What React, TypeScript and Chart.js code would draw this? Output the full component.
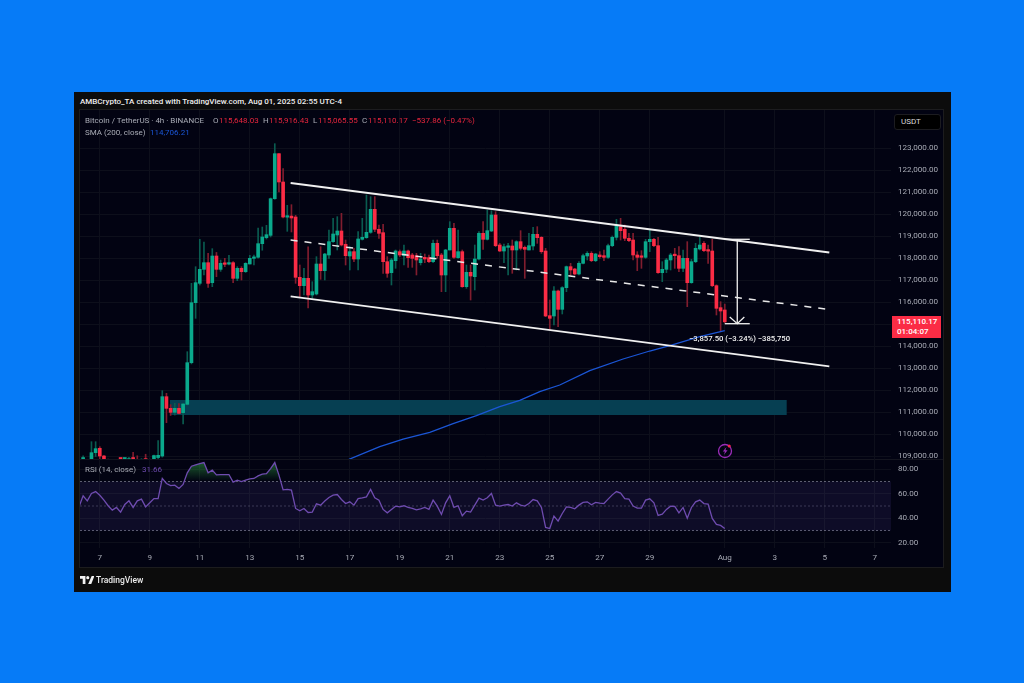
import React, { useEffect, useRef } from "react";
import { Chart, registerables } from "chart.js";

Chart.register(...registerables);

// Candle index: number of 4h periods since Jul 7 00:00
const firstCandle = -4;

const opens = [
  108800, 108700, 108880, 109171, 109368, 109020, 108860, 108700, 108600, 108700,
  108650, 108700, 108950, 108820, 108700, 108900, 108700, 108870, 108950, 109020,
  111713, 111183, 111002, 111183, 110985, 111365, 113256, 115979, 116857, 117492,
  117795, 116887, 118098, 117492, 117770, 117730, 117795, 117084, 117538, 117387,
  117735, 117990, 118040, 118658, 118930, 119036, 120700, 122743, 121457, 119860,
  119910, 119868, 117129, 116751, 117084, 116328, 116373, 117735, 117433, 118144,
  118749, 119051, 119233, 118628, 118098, 118295, 117962, 118855, 118931, 119172,
  120216, 119309, 119157, 117841, 117342, 117886, 118295, 118113, 118325, 118144,
  118113, 117796, 118038, 118023, 117841, 118673, 118144, 117236, 118371, 119354,
  118023, 118295, 116706, 117357, 117160, 117962, 119127, 118855, 119233, 119959,
  118598, 118325, 118492, 118552, 118371, 118749, 118492, 118371, 118552, 119082,
  118946, 118325, 115390, 115375, 116510, 115677, 116661, 117614, 117508, 117281,
  117765, 118098, 118219, 117886, 118144, 118113, 118038, 118567, 118945, 119430,
  119308, 118900, 118824, 118144, 118068, 118038, 118749, 118855, 118567, 117342,
  117493, 117917, 118144, 118113, 117538, 117992, 116888, 117841, 118416, 118673,
  118370, 118325, 116752, 115753, 115648.03,
];
const highs = [
  109030, 108860, 109670, 109670, 109443, 109050, 108880, 108800, 108750, 108820,
  108860, 108960, 109190, 109030, 108900, 109100, 108880, 109060, 109716, 111985,
  111864, 111350, 111410, 111400, 111410, 113755, 116857, 117613, 118855, 118734,
  118218, 118431, 118260, 117916, 117992, 118128, 117840, 117614, 117614, 117795,
  118128, 118140, 119369, 119414, 119490, 120731, 123197, 122743, 122062, 120398,
  120428, 119945, 117690, 117538, 118520, 116933, 118068, 118522, 118219, 119278,
  119808, 119884, 120035, 118824, 118522, 118446, 119203, 119808, 120867, 120791,
  120791, 119505, 119536, 118068, 117992, 118371, 118371, 118598, 118371, 118219,
  118219, 118219, 118189, 118144, 118824, 118824, 118219, 118401, 119657, 119581,
  119278, 118371, 117690, 117690, 118598, 119203, 119657, 120186, 120156, 120111,
  118673, 118643, 118673, 118824, 118794, 119248, 118552, 119127, 119399, 119430,
  118976, 118446, 116101, 116706, 116555, 116706, 117644, 117765, 117538, 117841,
  118189, 118295, 118295, 118219, 118295, 118371, 118643, 119006, 119762, 119808,
  119505, 119127, 119127, 118295, 118340, 118855, 119278, 118900, 118945, 117841,
  117992, 118219, 118446, 118522, 118371, 118749, 117947, 118673, 118945, 118749,
  118597, 118855, 116790, 116025, 115916.43,
];
const lows = [
  108700, 108500, 108700, 109000, 108890, 108700, 108600, 108500, 108450, 108550,
  108500, 108500, 108500, 108500, 108500, 108500, 108500, 108700, 108800, 108970,
  110533, 110860, 110880, 110926, 110472, 111335, 113200, 115268, 116781, 117235,
  116675, 116706, 117160, 117400, 117614, 117690, 116887, 116978, 117008, 117350,
  117735, 117690, 118000, 118360, 118870, 118960, 120670, 121003, 119823, 119218,
  119188, 116857, 116252, 116327, 115738, 116177, 116328, 117039, 117009, 117992,
  118718, 118371, 118552, 117690, 117463, 117841, 117463, 118824, 118900, 119127,
  119203, 118900, 117312, 117130, 116782, 117538, 118068, 117690, 117584, 117584,
  117236, 117690, 117796, 117796, 117796, 117992, 116480, 116480, 118371, 117992,
  117992, 116676, 116630, 116101, 116555, 117917, 118401, 118824, 119203, 118522,
  118295, 117796, 117236, 117312, 117463, 118371, 117085, 118371, 118371, 118673,
  118219, 115345, 114770, 114966, 114891, 115466, 116480, 117236, 117236, 117236,
  117735, 117917, 117841, 117841, 117992, 117886, 117992, 118522, 118824, 118824,
  118794, 118749, 117917, 117432, 117538, 117992, 118295, 118522, 117312, 116933,
  117342, 117463, 117538, 117387, 117387, 115798, 116858, 117795, 118371, 118295,
  117765, 116706, 115420, 114664, 115065.55,
];
const closes = [
  108950, 108800, 109171, 109353, 109020, 108860, 108700, 108600, 108700, 108650,
  108700, 108900, 108700, 108700, 108860, 108700, 108850, 109040, 109050, 111713,
  111183, 111002, 111183, 110956, 111380, 113256, 115979, 116887, 117492, 117795,
  116857, 118098, 117492, 117765, 117720, 117780, 117084, 117538, 117387, 117765,
  117992, 118040, 118658, 118961, 119066, 120700, 122743, 121457, 119868, 119910,
  119823, 117129, 116751, 117084, 116327, 116480, 117735, 117433, 118189, 118749,
  119097, 119233, 118598, 118113, 118295, 117962, 118870, 118946, 119172, 120216,
  119309, 119127, 117841, 117312, 117917, 118325, 118144, 118325, 118023, 117992,
  117917, 117962, 117962, 117841, 118673, 118113, 117236, 118371, 119354, 118038,
  118295, 116706, 117357, 117190, 117962, 119127, 118855, 119248, 119959, 118567,
  118325, 118522, 118552, 118371, 118749, 118446, 118401, 118567, 119082, 118930,
  118295, 115375, 115269, 116510, 115677, 116661, 117614, 117463, 117281, 117765,
  118113, 118219, 117886, 118189, 118068, 118038, 118567, 118945, 119505, 119248,
  118900, 118794, 118144, 118038, 118038, 118749, 118855, 118567, 117342, 117493,
  117917, 118144, 118113, 117538, 117992, 116888, 117841, 118446, 118597, 118340,
  118320, 116752, 115723, 115602, 115110.17,
];

// SMA (200, close): [candle index, value]
const smaIndex = [59.8, 67.2, 72.8, 79.2, 84.8, 90.4, 96, 100.8, 105.6, 110.4, 117.6, 125.6, 132, 136.8, 144, 150];
const smaValue = [108869, 109444, 109791, 110094, 110488, 110851, 111259, 111547, 111940, 112243, 112893, 113423, 113786, 114028, 114436, 114706.21];

// Drawn channel: start and end of each trend line
const channelIndex = [45.8, 175.1];
const channelUpper = [121411, 118257];
const channelMiddle = [118824, 115670];
const channelLower = [116270, 113090];

// Drawn zone
const zoneIndex = [16.8, 164.9];
const zoneTop = 111560;
const zoneBottom = 110880;

// Measure tool
const measureIndex = 153;
const measureCapIndex = [150, 156];
const measureHeadIndex = [151.2, 154.7];
const measureFrom = 118856;
const measureTo = 115025;
const measureHeadValue = 115329;

// RSI (14, close), starting at candle index -5
const rsiFirst = -5;
const rsiValues = [
  49.3, 58.3, 54.2, 60.2, 61.8, 58.8, 54.8, 50.2, 46.6, 48.8, 45, 51.2, 54.2, 48.8, 54.2, 55.6, 49.3, 52.6, 56.1, 56.1,
  72.5, 68.4, 66.7, 67, 64.3, 67.6, 77.1, 82.5, 83.6, 84.7, 85.5, 77.1, 79.3, 75.4, 75.7, 75.7, 75.7, 69.5, 71.1, 70,
  71.1, 72.2, 72.5, 74.6, 76, 76.5, 80.6, 85.5, 75.2, 63.2, 63.5, 63, 48, 46.1, 48, 44.7, 45, 51.8, 50.7, 54,
  57, 58.8, 59.4, 55.3, 52, 53.4, 50.7, 56.1, 56.7, 57.5, 63.5, 56.7, 54.8, 47.2, 44.4, 47.2, 49.9, 49.3, 50.2, 48.8,
  48, 46.9, 47.7, 48.8, 47.2, 54.8, 49.9, 43.1, 52.6, 58.3, 48.8, 50.2, 42, 45.8, 45, 50.7, 56.4, 54.8, 56.7, 60.2,
  50.7, 49.9, 50.7, 51.2, 49.9, 52.6, 50.7, 49.9, 52, 55.3, 54.2, 48.8, 32.5, 31.6, 41.7, 37.6, 43.9, 49.3, 48.8, 47.7,
  50.7, 52.9, 53.4, 51, 52.9, 52.3, 52, 55.6, 59.1, 61.8, 60.5, 56.1, 55.6, 49.9, 48.2, 48.2, 54.8, 55.9, 52.6, 42.3,
  43.3, 47.2, 49.9, 49.6, 44.4, 48.8, 40.1, 48.8, 53.4, 54.8, 52, 51.5, 39.8, 34.9, 34.1, 31.66,
];

// Axis ticks
const priceTicks = [109000, 110000, 111000, 112000, 113000, 114000, 115000, 116000, 117000, 118000, 119000, 120000, 121000, 122000, 123000];
const rsiTicks = [20, 40, 60, 80];
const rsiBands = [70, 50, 30];
const timeTicks = [0, 12, 24, 36, 48, 60, 72, 84, 96, 108, 120, 132, 150, 162, 174, 186];
const timeLabels = ["7", "9", "11", "13", "15", "17", "19", "21", "23", "25", "27", "29", "Aug", "3", "5", "7"];

const X_MIN = -4.75;
const X_MAX = 189.9;
const GREEN = "#0aa98c";
const RED = "#fb2c45";
const GREEN_WICK = "#0a5c50";
const RED_WICK = "#801d2e";
const GRID = "#0d0f1b";
const AXIS_TEXT = "#a8abb5";
const AXIS_FONT = { family: "Roboto", size: 8.1 };
const TEXT_SIZE = 8;

const fmt = (v: number) => v.toLocaleString("en-US", { minimumFractionDigits: 2, maximumFractionDigits: 2 });

function fixAxis(width: number | null, height: number | null) {
  return (axis: any) => {
    if (width !== null) axis.width = width;
    if (height !== null) axis.height = height;
    axis.paddingTop = 0;
    axis.paddingBottom = 0;
    axis.paddingLeft = 0;
    axis.paddingRight = 0;
  };
}

function line(points: { x: number; y: number }[], color: string, width: number, dash: number[] = [], extra: any = {}) {
  return {
    type: "line" as const,
    data: points,
    borderColor: color,
    borderWidth: width,
    borderDash: dash,
    pointRadius: 0,
    tension: 0,
    fill: false,
    order: 1,
    ...extra,
  };
}

const Label = ({ x, y, color, size = TEXT_SIZE, weight = 400, children, family = "Roboto" }: any) => (
  <div
    style={{
      position: "absolute",
      left: x,
      top: y - 7,
      height: 14,
      lineHeight: "14px",
      color,
      fontSize: size,
      fontWeight: weight,
      fontFamily: family,
      whiteSpace: "nowrap",
    }}
  >
    {children}
  </div>
);

export default function App() {
  const priceRef = useRef<HTMLCanvasElement>(null);
  const rsiRef = useRef<HTMLCanvasElement>(null);

  useEffect(() => {
    const candleX = opens.map((_, i) => firstCandle + i);
    const up = opens.map((o, i) => closes[i] >= o);

    const xGrid = {
      type: "linear" as const,
      min: X_MIN,
      max: X_MAX,
      offset: false,
      border: { display: false },
      grid: { color: GRID, drawTicks: false, offset: false, lineWidth: 1 },
      afterBuildTicks: (axis: any) => {
        axis.ticks = timeTicks.map((value) => ({ value }));
      },
    };

    const priceChart = new Chart(priceRef.current!, {
      type: "bar",
      data: {
        datasets: [
          // zone
          line(zoneIndex.map((x) => ({ x, y: zoneTop })), "transparent", 0, [], {
            fill: "+1",
            backgroundColor: "#063f52",
            order: 5,
          }),
          line(zoneIndex.map((x) => ({ x, y: zoneBottom })), "transparent", 0, [], { order: 5 }),
          // wicks
          {
            type: "bar" as const,
            data: candleX.map((x, i) => ({ x, y: [lows[i], highs[i]] })),
            backgroundColor: up.map((u) => (u ? GREEN_WICK : RED_WICK)),
            barThickness: 1,
            grouped: false,
            order: 4,
          },
          // bodies
          {
            type: "bar" as const,
            data: candleX.map((x, i) => ({ x, y: [opens[i], closes[i]] })),
            backgroundColor: up.map((u) => (u ? GREEN : RED)),
            barThickness: 3,
            minBarLength: 1.5,
            grouped: false,
            order: 3,
          },
          // SMA
          line(smaIndex.map((x, i) => ({ x, y: smaValue[i] })), "#1b56d6", 1.3, [], { order: 2 }),
          // channel
          line(channelIndex.map((x, i) => ({ x, y: channelUpper[i] })), "#f0f0f0", 1.8),
          line(channelIndex.map((x, i) => ({ x, y: channelLower[i] })), "#f0f0f0", 1.8),
          line(channelIndex.map((x, i) => ({ x, y: channelMiddle[i] })), "#e8e8e8", 1.5, [7, 7]),
          // measure tool
          line([{ x: measureIndex, y: measureFrom }, { x: measureIndex, y: measureTo }], "#f2f2f2", 1.3),
          line(measureCapIndex.map((x) => ({ x, y: measureFrom })), "#f2f2f2", 1.3),
          line(measureCapIndex.map((x) => ({ x, y: measureTo })), "#f2f2f2", 1.3),
          line(
            [
              { x: measureHeadIndex[0], y: measureHeadValue },
              { x: measureIndex, y: measureTo },
              { x: measureHeadIndex[1], y: measureHeadValue },
            ],
            "#f2f2f2",
            1.3
          ),
        ] as any,
      },
      options: {
        animation: false,
        responsive: false,
        maintainAspectRatio: false,
        layout: { padding: { bottom: 12, top: 0, left: 0, right: 0 } },
        plugins: { legend: { display: false }, tooltip: { enabled: false } },
        scales: {
          x: {
            ...xGrid,
            ticks: { display: false },
            afterFit: fixAxis(null, 0),
          },
          y: {
            type: "linear",
            position: "right",
            min: 108884,
            max: 124725,
            border: { display: false },
            grid: { color: GRID, drawTicks: false },
            afterBuildTicks: (axis: any) => {
              axis.ticks = priceTicks.map((value) => ({ value }));
            },
            ticks: { callback: (v: any) => fmt(Number(v)), color: AXIS_TEXT, font: AXIS_FONT, padding: 7, autoSkip: false },
            afterFit: fixAxis(52, null),
          },
        },
      } as any,
    });

    const rsiCtx = rsiRef.current!.getContext("2d")!;
    const overbought = rsiCtx.createLinearGradient(0, 0, 0, 22);
    overbought.addColorStop(0, "rgba(46,160,67,0.65)");
    overbought.addColorStop(1, "rgba(46,160,67,0)");

    const rsiX = rsiValues.map((_, i) => rsiFirst + i);

    const rsiChart = new Chart(rsiRef.current!, {
      type: "line",
      data: {
        datasets: [
          line([X_MIN, X_MAX].map((x) => ({ x, y: rsiBands[0] })), "rgba(170,170,185,0.55)", 1, [2, 2], {
            fill: "+2",
            backgroundColor: "rgba(110,80,200,0.12)",
            order: 4,
          }),
          line([X_MIN, X_MAX].map((x) => ({ x, y: rsiBands[1] })), "rgba(150,150,170,0.35)", 1, [2, 2], { order: 4 }),
          line([X_MIN, X_MAX].map((x) => ({ x, y: rsiBands[2] })), "rgba(170,170,185,0.55)", 1, [2, 2], { order: 4 }),
          line(rsiX.map((x, i) => ({ x, y: rsiValues[i] })), "#6f4cb0", 1.3, [], {
            fill: { target: { value: 70 }, above: overbought, below: "transparent" },
            order: 1,
          }),
        ] as any,
      },
      options: {
        animation: false,
        responsive: false,
        maintainAspectRatio: false,
        layout: { padding: 0 },
        plugins: { legend: { display: false }, tooltip: { enabled: false } },
        scales: {
          x: {
            ...xGrid,
            ticks: {
              color: AXIS_TEXT,
              font: AXIS_FONT,
              padding: 5,
              autoSkip: false,
              maxRotation: 0,
              callback: (v: any) => {
                const i = timeTicks.indexOf(Number(v));
                return i >= 0 ? timeLabels[i] : "";
              },
            },
            afterFit: fixAxis(null, 19),
          },
          y: {
            type: "linear",
            position: "right",
            min: 15.68,
            max: 88.4,
            border: { display: false },
            grid: { color: GRID, drawTicks: false },
            afterBuildTicks: (axis: any) => {
              axis.ticks = rsiTicks.map((value) => ({ value }));
            },
            ticks: { callback: (v: any) => fmt(Number(v)), color: AXIS_TEXT, font: AXIS_FONT, padding: 7, autoSkip: false },
            afterFit: fixAxis(52, null),
          },
        },
      } as any,
    });

    return () => {
      priceChart.destroy();
      rsiChart.destroy();
    };
  }, []);

  return (
    <div style={{ position: "fixed", left: 0, top: 0, width: 1024, height: 683, background: "#067bf7", overflow: "hidden" }}>
      <div style={{ position: "absolute", left: 74, top: 92, width: 877, height: 500, background: "#0c0c0c" }} />
      <div
        style={{
          position: "absolute",
          left: 80,
          top: 110,
          width: 863,
          height: 457,
          background: "#020312",
          outline: "1px solid #1c1c1e",
        }}
      />
      <canvas ref={priceRef} width={863} height={361} style={{ position: "absolute", left: 80, top: 110 }} />
      <div style={{ position: "absolute", left: 80, top: 459, width: 863, height: 1, background: "#14151f" }} />
      <canvas ref={rsiRef} width={863} height={108} style={{ position: "absolute", left: 80, top: 459 }} />

      <Label x={80} y={102} color="#eeeeee" weight={500}>
        AMBCrypto_TA created with TradingView.com, Aug 01, 2025 02:55 UTC-4
      </Label>
      <Label x={85} y={121} color="#a9acb6">Bitcoin / TetherUS · 4h · BINANCE</Label>
      <Label x={213} y={121} color="#a9acb6">O</Label>
      <Label x={219} y={121} color="#e8263d">115,648.03</Label>
      <Label x={263} y={121} color="#a9acb6">H</Label>
      <Label x={269} y={121} color="#e8263d">115,916.43</Label>
      <Label x={313} y={121} color="#a9acb6">L</Label>
      <Label x={318} y={121} color="#e8263d">115,065.55</Label>
      <Label x={362} y={121} color="#a9acb6">C</Label>
      <Label x={368} y={121} color="#e8263d">115,110.17</Label>
      <Label x={412} y={121} color="#e8263d">−537.86 (−0.47%)</Label>
      <Label x={85} y={133} color="#a9acb6">SMA (200, close)</Label>
      <Label x={150} y={133} color="#1b56d6">114,706.21</Label>
      <Label x={85} y={470} color="#a9acb6">RSI (14, close)</Label>
      <Label x={142} y={470} color="#6f4cb0">31.66</Label>
      <Label x={689} y={339} color="#f2f2f2" size={7.7} weight={500}>−3,857.50 (−3.24%) −385,750</Label>

      <div
        style={{
          position: "absolute",
          left: 894,
          top: 114,
          width: 47,
          height: 16,
          background: "#000",
          border: "1px solid #1c1c20",
          borderRadius: 3,
          boxSizing: "border-box",
          paddingLeft: 6,
          color: "#d8d8dc",
          fontFamily: "Roboto",
          fontSize: 8,
          lineHeight: "14px",
        }}
      >
        USDT
      </div>
      <div
        style={{
          position: "absolute",
          left: 892,
          top: 316,
          width: 49,
          height: 22,
          background: "#fb2c45",
          color: "#fff",
          fontFamily: "Roboto",
          fontSize: 8,
          fontWeight: 500,
          lineHeight: "10px",
          paddingTop: 1,
          paddingLeft: 5,
          boxSizing: "border-box",
        }}
      >
        115,110.17
        <br />
        01:04:07
      </div>

      <svg style={{ position: "absolute", left: 717, top: 442 }} width={17} height={17} viewBox="0 0 17 17">
        <circle cx="8" cy="9" r="6.5" fill="none" stroke="#9a2cb8" strokeWidth="1.3" />
        <path d="M9.5 5 L5.8 9.6 L8 9.6 L7 12.8 L10.6 8.2 L8.4 8.2 Z" fill="#9a2cb8" />
        <circle cx="12.2" cy="4" r="1.6" fill="#f2254a" />
      </svg>

      <svg style={{ position: "absolute", left: 80, top: 576 }} width={14} height={8} viewBox="0 0 36 20">
        <path d="M0 0 H14 V20 H7 V7 H0 Z M30 0 H37 L29 20 H21 Z" fill="#f2f2f2" />
        <circle cx="20" cy="4" r="4" fill="#f2f2f2" />
      </svg>
      <Label x={96} y={580} color="#ececec" size={8.5} weight={500}>TradingView</Label>
    </div>
  );
}
